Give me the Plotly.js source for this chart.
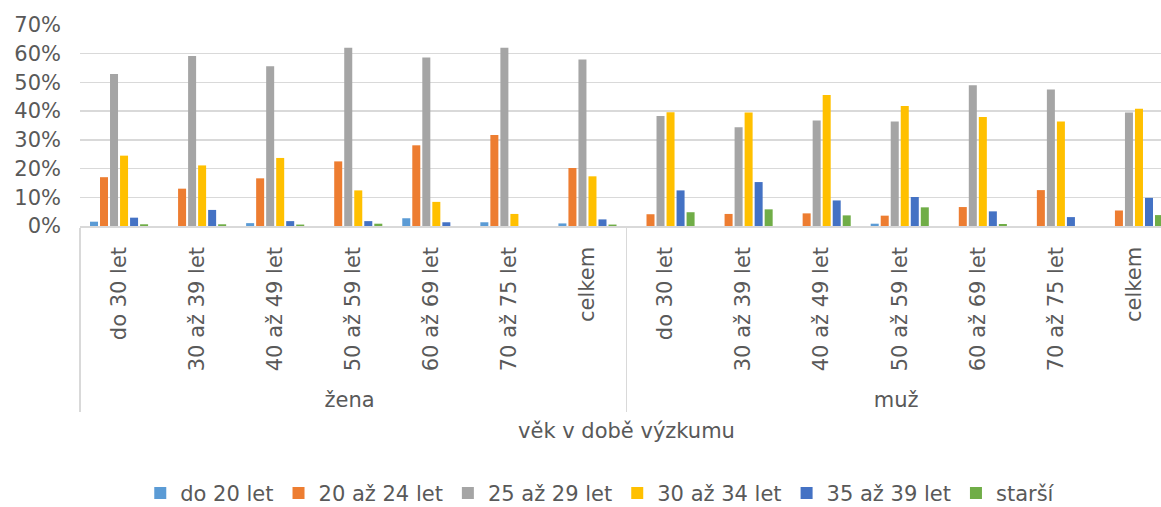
<!DOCTYPE html>
<html>
<head>
<meta charset="utf-8">
<script src="https://cdn.plot.ly/plotly-3.0.1.min.js"></script>
<style>
html, body { margin: 0; padding: 0; overflow: hidden; background: #fff; }
#chart { width: 1180px; height: 507px; }
</style>
</head>
<body>
<div id="chart"></div>
<script>
const genders = ["žena","žena","žena","žena","žena","žena","žena","muž","muž","muž","muž","muž","muž","muž"];
const ageGroups = ["do 30 let","30 až 39 let","40 až 49 let","50 až 59 let","60 až 69 let","70 až 75 let","celkem",
                   "do 30 let","30 až 39 let","40 až 49 let","50 až 59 let","60 až 69 let","70 až 75 let","celkem"];
const seriesNames = ["do 20 let","20 až 24 let","25 až 29 let","30 až 34 let","35 až 39 let","starší"];
const do20 =   [0.015,0.000,0.010,0.000,0.027,0.013,0.009, 0.000,0.000,0.000,0.008,0.000,0.000,0.000];
const a20_24 = [0.170,0.130,0.166,0.225,0.281,0.317,0.202, 0.041,0.042,0.044,0.036,0.066,0.125,0.054];
const a25_29 = [0.529,0.592,0.556,0.621,0.587,0.621,0.580, 0.383,0.344,0.367,0.364,0.490,0.475,0.395];
const a30_34 = [0.245,0.211,0.237,0.124,0.084,0.042,0.173, 0.396,0.395,0.456,0.418,0.380,0.364,0.408];
const a35_39 = [0.029,0.056,0.017,0.017,0.013,0.000,0.023, 0.124,0.153,0.089,0.101,0.051,0.031,0.098];
const starsi = [0.006,0.006,0.005,0.008,0.000,0.000,0.005, 0.048,0.058,0.037,0.065,0.007,0.000,0.038];
const yTicks = [0,0.1,0.2,0.3,0.4,0.5,0.6,0.7];
const yTickLabels = ["0%","10%","20%","30%","40%","50%","60%","70%"];

const colors = ["#5B9BD5","#ED7D31","#A5A5A5","#FFC000","#4472C4","#70AD47"];
const values = [do20, a20_24, a25_29, a30_34, a35_39, starsi];
const textColor = "#595959";
const font = "DejaVu Sans, Verdana, sans-serif";

// a leading no-break space gives the rotated labels the same extra room below them as in the reference
const innerLabels = ageGroups.map(s => "\u00a0" + s);

const data = values.map((v, i) => ({
  type: "bar",
  name: seriesNames[i],
  x: [genders, innerLabels],
  y: v,
  marker: { color: colors[i] },
  hoverinfo: "skip"
}));

const layout = {
  width: 1180,
  height: 507,
  margin: { l: 80, r: 7, t: 24.7, b: 281.3, autoexpand: false },
  paper_bgcolor: "#ffffff",
  plot_bgcolor: "#ffffff",
  font: { family: font, size: 21, color: textColor },
  barmode: "group",
  bargap: 0.23,
  bargroupgap: 0.2,
  showlegend: true,
  legend: {
    orientation: "h",
    x: 0.476, xanchor: "center",
    y: -1.33, yanchor: "middle",
    font: { family: font, size: 21, color: textColor },
    traceorder: "normal"
  },
  xaxis: {
    type: "multicategory",
    automargin: false,
    tickangle: -90,
    showline: true,
    linecolor: "#D9D9D9",
    linewidth: 1.5,
    showgrid: false,
    ticks: "",
    ticklabelstandoff: 11,
    showdividers: true,
    dividercolor: "#D9D9D9",
    dividerwidth: 1.5,
    tickfont: { family: font, size: 21, color: textColor },
    title: { text: "věk v době výzkumu", font: { family: font, size: 21, color: textColor }, standoff: 12 }
  },
  yaxis: {
    range: [0, 0.7],
    automargin: false,
    tickvals: yTicks,
    ticktext: yTickLabels,
    showgrid: true,
    gridcolor: "#D9D9D9",
    gridwidth: 1.3,
    zeroline: false,
    showline: false,
    ticks: "",
    ticklabelstandoff: 18,
    tickfont: { family: font, size: 21, color: textColor }
  }
};

Plotly.newPlot("chart", data, layout, { staticPlot: true, displayModeBar: false });
</script>
</body>
</html>
